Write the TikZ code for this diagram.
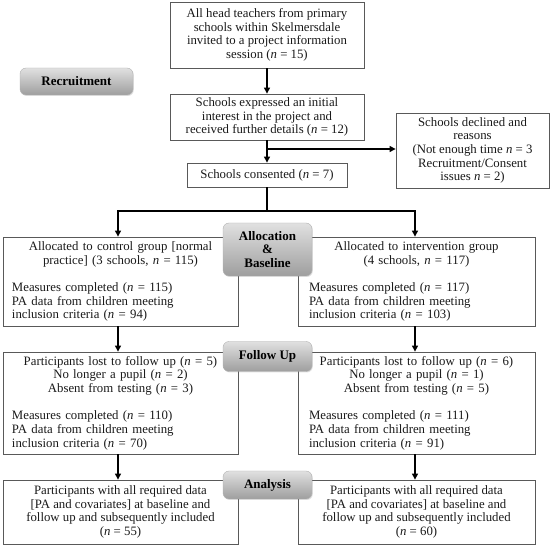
\documentclass[tikz,border=0pt]{standalone}
\usepackage{fontspec}
\setmainfont{Liberation Serif}
\usetikzlibrary{arrows.meta,shadows}
\tikzset{
  box/.style={draw=black!65, line width=0.8pt, rectangle, inner sep=0pt,
    font=\fontsize{12.8}{13.7}\selectfont, text=black!90},
  cbox/.style={box, align=center},
  badge/.style={rectangle, rounded corners=6pt, top color=black!12, bottom color=black!38,
    draw=black!30, line width=0.4pt, font=\fontsize{13}{13.8}\selectfont\bfseries, align=center,
    drop shadow={shadow xshift=0.8pt, shadow yshift=-1pt, opacity=0.25}},
  arr/.style={line width=1.1pt, -{Triangle[length=6pt,width=6pt]}},
  ln/.style={line width=1.1pt}
}
\newcommand{\nn}{\textit{n}}
\begin{document}
\begin{tikzpicture}[x=1pt,y=-1pt]
\useasboundingbox (0,0) rectangle (550,545);
% recruitment
\node[cbox, minimum width=194pt, minimum height=66pt] (top) at (267,35)
  {All head teachers from primary\\schools within Skelmersdale\\invited to a project information\\session (\nn{} = 15)};
\node[cbox, minimum width=194pt, minimum height=46pt] (interest) at (267,117)
  {Schools expressed an initial\\interest in the project and\\received further details (\nn{} = 12)};
\node[cbox, minimum width=153pt, minimum height=75pt] (declined) at (472.5,150.5)
  {Schools declined and\\reasons\\(Not enough time \nn{} = 3\\Recruitment/Consent\\issues \nn{} = 2)};
\node[cbox, minimum width=160pt, minimum height=24pt] (consent) at (267,175)
  {Schools consented (\nn{} = 7)};
% allocation
\node[box, minimum width=235pt, minimum height=89pt, text width=217pt] (ctrlA) at (120.5,281.5)
  {\centering Allocated to control group [normal\\practice] (3 schools, \nn{} = 115)\par
   \vspace{\baselineskip}\raggedright Measures completed (\nn{} = 115)\\PA data from children meeting\\inclusion criteria (\nn{} = 94)\par};
\node[box, minimum width=237pt, minimum height=89pt, text width=215pt] (intA) at (416.5,281.5)
  {\centering Allocated to intervention group\\(4 schools, \nn{} = 117)\par
   \vspace{\baselineskip}\raggedright Measures completed (\nn{} = 117)\\PA data from children meeting\\inclusion criteria (\nn{} = 103)\par};
% follow up
\node[box, minimum width=235pt, minimum height=102pt, text width=217pt] (ctrlF) at (120.5,403)
  {\centering Participants lost to follow up (\nn{} = 5)\\No longer a pupil (\nn{} = 2)\\Absent from testing (\nn{} = 3)\par
   \vspace{\baselineskip}\raggedright Measures completed (\nn{} = 110)\\PA data from children meeting\\inclusion criteria (\nn{} = 70)\par};
\node[box, minimum width=237pt, minimum height=102pt, text width=215pt] (intF) at (416.5,403)
  {\centering Participants lost to follow up (\nn{} = 6)\\No longer a pupil (\nn{} = 1)\\Absent from testing (\nn{} = 5)\par
   \vspace{\baselineskip}\raggedright Measures completed (\nn{} = 111)\\PA data from children meeting\\inclusion criteria (\nn{} = 91)\par};
% analysis
\node[cbox, minimum width=235pt, minimum height=64pt] (ctrlN) at (120.5,512)
  {Participants with all required data\\{}[PA and covariates] at baseline and\\follow up and subsequently included\\(\nn{} = 55)};
\node[cbox, minimum width=237pt, minimum height=64pt] (intN) at (416.5,512)
  {Participants with all required data\\{}[PA and covariates] at baseline and\\follow up and subsequently included\\(\nn{} = 60)};
% badges
\node[badge, minimum width=113pt, minimum height=27pt] (recruit) at (76.5,81.5) {Recruitment};
\node[badge, minimum width=89pt, minimum height=53pt] (alloc) at (267.5,249.5) {Allocation\\\&\\Baseline};
\node[badge, minimum width=89pt, minimum height=30pt] (follow) at (267.5,356.5) {Follow Up};
\node[badge, minimum width=89pt, minimum height=28pt] (analysis) at (267.5,485) {Analysis};
% connectors
\draw[arr] (top) -- (interest);
\draw[arr] (interest) -- (consent);
\coordinate (br) at (267,149);
\draw[arr] (br) -- (br -| declined.west);
\coordinate (split) at (267,211);
\draw[ln] (consent.south) -- (split);
\draw[arr] (split) -| (118,0 |- ctrlA.north);
\draw[arr] (split) -| (415,0 |- intA.north);
\draw[arr] (ctrlA.south -| 118,0) -- (ctrlF.north -| 118,0);
\draw[arr] (intA.south -| 415,0) -- (intF.north -| 415,0);
\draw[arr] (ctrlF.south -| 118,0) -- (ctrlN.north -| 118,0);
\draw[arr] (intF.south -| 415,0) -- (intN.north -| 415,0);
\end{tikzpicture}
\end{document}
